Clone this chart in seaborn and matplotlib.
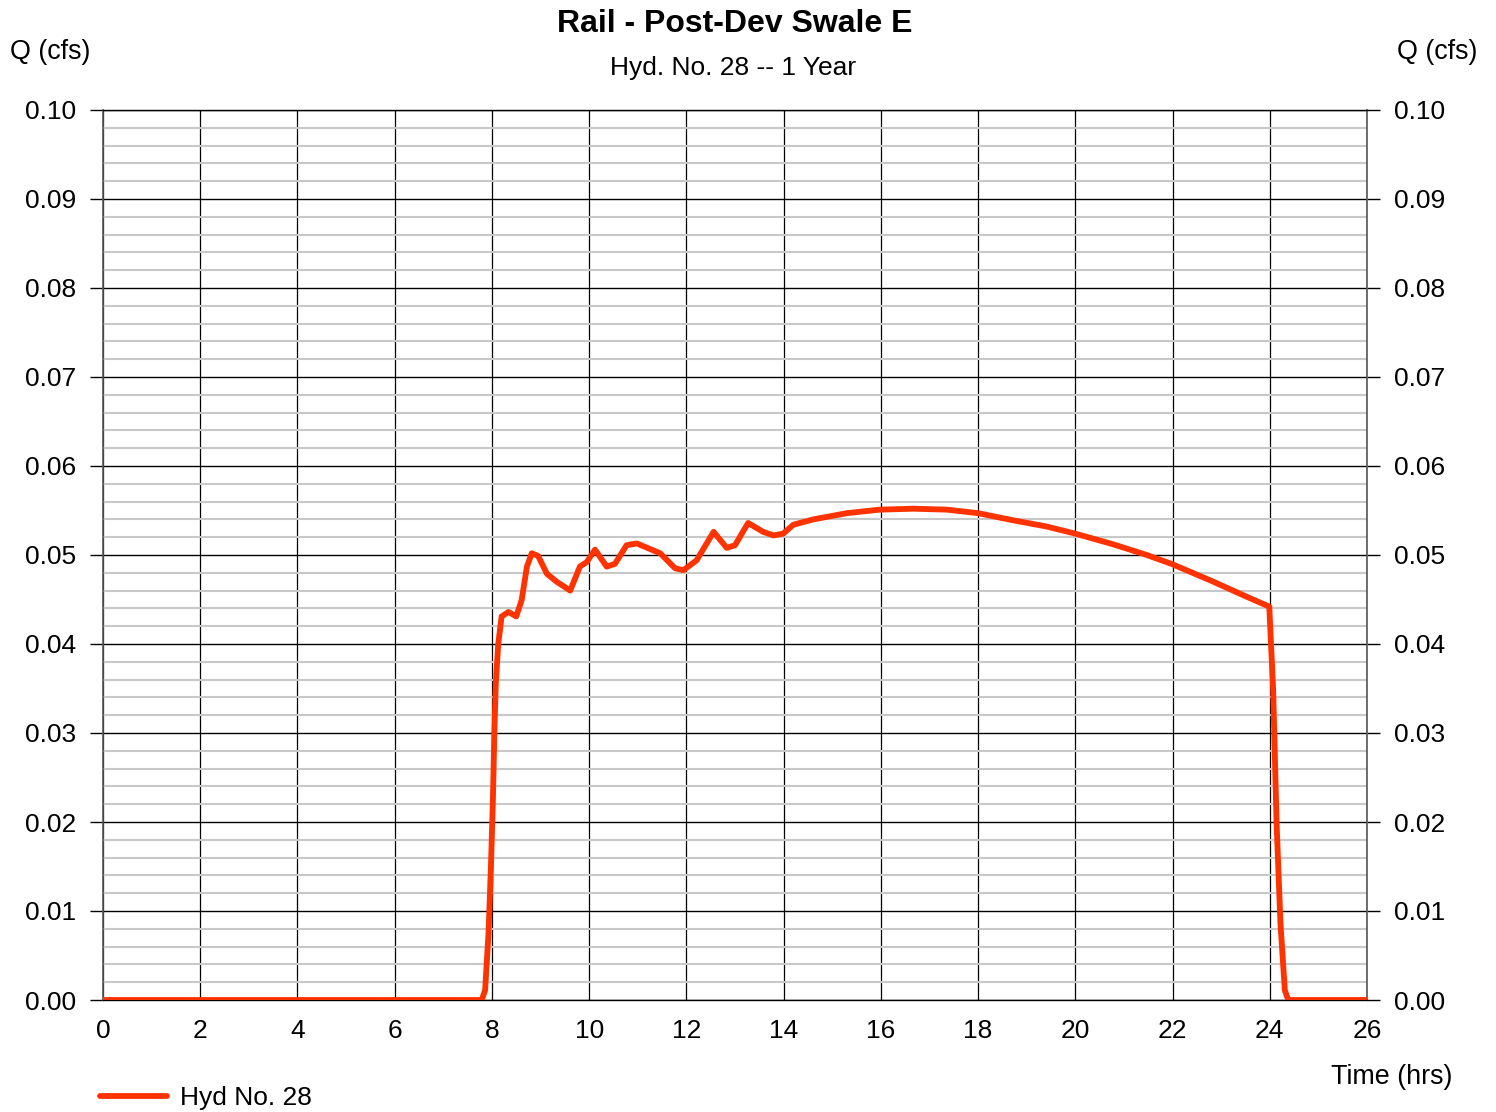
import matplotlib
matplotlib.use("Agg")
import matplotlib.pyplot as plt
import numpy as np
import pandas as pd
import seaborn as sns
from matplotlib.ticker import MultipleLocator


TITLE = "Rail - Post-Dev Swale E"
SUBTITLE = "Hyd. No. 28 -- 1 Year"
SERIES_NAME = "Hyd No. 28"

# hydrograph (hours, cfs)
time_hrs = [
    0.0, 7.79, 7.86, 7.93, 7.98, 8.02, 8.05, 8.08, 8.13, 8.20, 8.34, 8.50,
    8.61, 8.72, 8.82, 8.95, 9.13, 9.33, 9.50, 9.61, 9.81, 9.95, 10.12, 10.36,
    10.53, 10.77, 10.98, 11.46, 11.77, 11.94, 12.21, 12.56, 12.83, 13.00,
    13.27, 13.58, 13.79, 13.99, 14.20, 14.61, 15.30, 15.98, 16.67, 17.35,
    18.00, 18.72, 19.41, 20.00, 20.78, 21.47, 21.98, 22.84, 23.53, 23.99,
    24.07, 24.14, 24.22, 24.31, 24.38, 26.0,
]
flow_cfs = [
    0.0, 0.0, 0.0011, 0.0075, 0.0150, 0.0225, 0.0300, 0.0356, 0.0400, 0.0431,
    0.0436, 0.0431, 0.0449, 0.0487, 0.0502, 0.0499, 0.0479, 0.0470, 0.0464,
    0.0460, 0.0487, 0.0492, 0.0506, 0.0487, 0.0490, 0.0511, 0.0513, 0.0502,
    0.0485, 0.0483, 0.0494, 0.0526, 0.0508, 0.0511, 0.0536, 0.0526, 0.0522,
    0.0524, 0.0534, 0.0540, 0.0547, 0.0551, 0.0552, 0.0551, 0.0547, 0.0539,
    0.0532, 0.0524, 0.0512, 0.0500, 0.0490, 0.0470, 0.0453, 0.0442, 0.0348,
    0.0199, 0.0086, 0.0011, 0.0, 0.0,
]

x_ticks = list(range(0, 27, 2))
y_ticks = [0.00, 0.01, 0.02, 0.03, 0.04, 0.05, 0.06, 0.07, 0.08, 0.09, 0.10]

LINE_COLOR = "#ff3300"


def main():
    sns.set_style("white")
    plt.rcParams["font.family"] = ["Liberation Sans", "DejaVu Sans"]
    plt.rcParams["text.color"] = "black"
    plt.rcParams["xtick.color"] = "black"
    plt.rcParams["ytick.color"] = "black"

    df = pd.DataFrame({"Time (hrs)": time_hrs, "Q (cfs)": flow_cfs})

    fig = plt.figure(figsize=(14.96, 11.12), dpi=100)
    ax = fig.add_axes([103 / 1496, 1 - 1000 / 1112, 1264 / 1496, 890 / 1112])

    ax.set_xlim(0, 26)
    ax.set_ylim(0, 0.10)
    ax.set_xticks(x_ticks)
    ax.set_yticks(y_ticks)
    ax.yaxis.set_minor_locator(MultipleLocator(0.002))

    # grid: grey minor rows, black major rows and columns
    ax.grid(which="minor", axis="y", color="#c8c8c8", lw=1.5, zorder=0)
    ax.grid(which="major", axis="y", color="black", lw=1.0, zorder=1)
    ax.grid(which="major", axis="x", color="black", lw=0.9, zorder=1)
    ax.set_axisbelow(True)

    sns.lineplot(
        data=df,
        x="Time (hrs)",
        y="Q (cfs)",
        ax=ax,
        color=LINE_COLOR,
        lw=4.2,
        solid_capstyle="round",
        solid_joinstyle="round",
        zorder=3,
        legend=False,
    )
    ax.set_xlabel("")
    ax.set_ylabel("")

    for side in ["top", "bottom"]:
        ax.spines[side].set_color("black")
        ax.spines[side].set_linewidth(1.0)
    for side in ["left", "right"]:
        ax.spines[side].set_color("#555555")
        ax.spines[side].set_linewidth(1.2)

    ax.set_xticklabels([str(v) for v in x_ticks], fontsize=19)
    ax.tick_params(axis="x", which="both", length=0, pad=14)
    ax.set_yticklabels([f"{v:.2f}" for v in y_ticks], fontsize=19)
    ax.tick_params(axis="y", which="major", length=9.5, width=1.0, color="black",
                   left=True, right=True, labelleft=True, labelright=True, pad=10)
    ax.tick_params(axis="y", which="minor", length=0)

    fig.text(735 / 1496, 1 - 24 / 1112, TITLE, ha="center", va="center",
             fontsize=23, fontweight="bold")
    fig.text(733 / 1496, 1 - 68 / 1112, SUBTITLE, ha="center", va="center", fontsize=19)
    fig.text(10 / 1496, 1 - 52 / 1112, "Q (cfs)", ha="left", va="center", fontsize=19.4)
    fig.text(1477 / 1496, 1 - 52 / 1112, "Q (cfs)", ha="right", va="center", fontsize=19.4)
    fig.text(1452 / 1496, 1 - 1077 / 1112, "Time (hrs)", ha="right", va="center",
             fontsize=19.4)

    handle = plt.Line2D([], [], color=LINE_COLOR, lw=4.2, solid_capstyle="round")
    fig.legend(
        [handle],
        [SERIES_NAME],
        loc="center left",
        bbox_to_anchor=(100 / 1496, 1 - 1098 / 1112),
        frameon=False,
        fontsize=19,
        handlelength=2.55,
        handletextpad=0.5,
        borderaxespad=0,
        borderpad=0,
    )

    fig.savefig("out.png", dpi=100)
    plt.close(fig)


if __name__ == "__main__":
    main()
